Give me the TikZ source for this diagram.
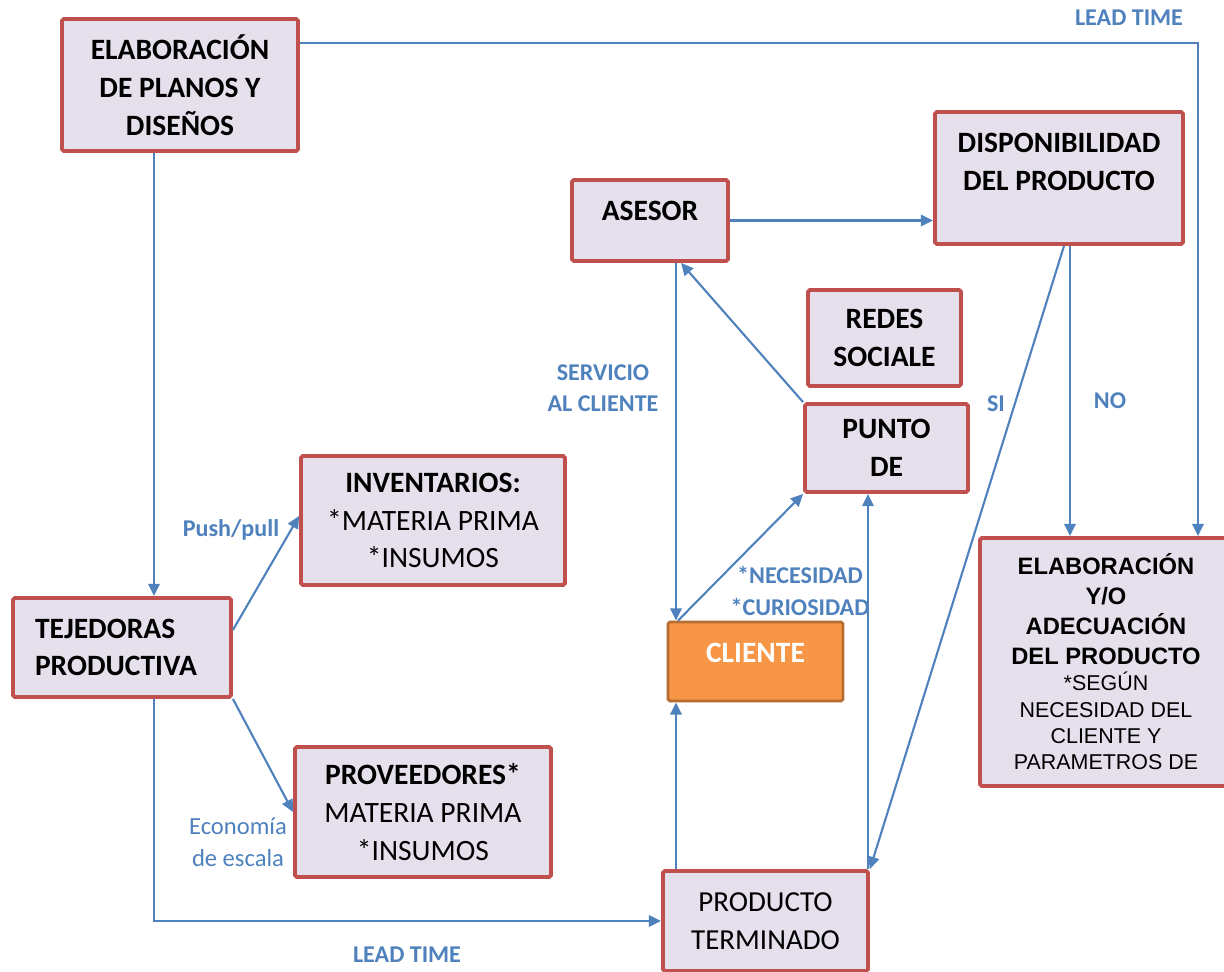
\documentclass[tikz,border=0pt]{standalone}
\usepackage{fontspec}
\setmainfont{Carlito}
\newfontfamily\arialfont{Liberation Sans}
\usetikzlibrary{arrows.meta}

\definecolor{boxred}{RGB}{192,80,77}
\definecolor{boxfill}{RGB}{229,224,236}
\definecolor{flowblue}{RGB}{79,129,189}
\definecolor{clientorange}{RGB}{247,150,70}
\definecolor{clientedge}{RGB}{182,109,49}

\begin{document}
\begin{tikzpicture}[x=0.02cm, y=-0.02cm,
	>={Triangle[length=7pt,width=6.5pt]},
	box/.style={draw=boxred, fill=boxfill, line width=2.2pt, rounded corners=1pt, inner sep=0pt, align=center, font=\bfseries\fontsize{16.8}{21.5}\selectfont},
	flow/.style={flowblue, line width=1.2pt},
	tag/.style={text=flowblue, inner sep=0pt, align=center, font=\bfseries\fontsize{13.7}{18}\selectfont}]

	% page frame
	\useasboundingbox (0,0) rectangle (1224,971);

	% box placement
	\node[box, minimum width=4.72cm, minimum height=2.64cm] (plan) at (180,85) {ELABORACIÓN\\DE PLANOS Y\\DISEÑOS};
	\node[box, minimum width=3.12cm, minimum height=1.62cm] (asesor) at (650,220.5) {ASESOR\\[-10pt]\mbox{}};
	\node[box, minimum width=4.96cm, minimum height=2.64cm] (dispo) at (1059,178) {DISPONIBILIDAD\\DEL PRODUCTO\\[-3.5pt]\mbox{}};
	\node[box, minimum width=3.06cm, minimum height=1.92cm] (redes) at (884.5,338) {REDES\\SOCIALE};
	\node[box, minimum width=3.26cm, minimum height=1.76cm] (punto) at (886.5,448) {PUNTO\\DE};
	\node[box, minimum width=5.28cm, minimum height=2.58cm] (inv) at (433,520.5) {INVENTARIOS:\\\mdseries *MATERIA PRIMA\\\mdseries *INSUMOS};
	\node[box, align=left, text width=3.48cm, minimum width=4.36cm, minimum height=1.98cm] (tej) at (122,647.5) {TEJEDORAS\\PRODUCTIVA};
	\node[box, fill=clientorange, draw=clientedge, line width=1.6pt, text=white, minimum width=3.5cm, minimum height=1.58cm] (cliente) at (755.5,661.5) {CLIENTE\\[-12pt]\mbox{}};
	\node[box, minimum width=5.12cm, minimum height=2.6cm] (prov) at (423,812) {PROVEEDORES*\\\mdseries MATERIA PRIMA\\\mdseries *INSUMOS};
	\node[box, font=\fontsize{16.5}{21.5}\selectfont, minimum width=4.1cm, minimum height=2.0cm] (pt) at (765.5,921) {PRODUCTO\\TERMINADO};
	\node[box, font=\arialfont\bfseries\fontsize{13.5}{17}\selectfont, minimum width=5.04cm, minimum height=4.96cm] (adec) at (1106,662)
		{ELABORACIÓN\\Y/O\\ADECUACIÓN\\DEL PRODUCTO\\[-2pt]\mdseries\fontsize{12.2}{15}\selectfont *SEGÚN\\[-2pt]\mdseries\fontsize{12.2}{15}\selectfont NECESIDAD DEL\\[-2pt]\mdseries\fontsize{12.2}{15}\selectfont CLIENTE Y\\[-2pt]\mdseries\fontsize{12.2}{15}\selectfont PARAMETROS DE};

	% connector labels
	\node[tag] (leadtop) at (1129,18) {LEAD TIME};
	\node[tag] (leadbot) at (407,955) {LEAD TIME};
	\node[tag] (pushpull) at (231,530) {Push/pull};
	\node[tag, font=\fontsize{14}{18}\selectfont] (escala) at (238,842) {Economía\\de escala};
	\node[tag] (servicio) at (603,388) {SERVICIO\\AL CLIENTE};
	\node[tag] (necesidad) at (800,591) {*NECESIDAD\\*CURIOSIDAD};
	\node[tag] (si) at (996,404) {SI};
	\node[tag] (no) at (1110,401) {NO};

	% production side
	\draw[flow, ->] (plan.south -| 154,0) -- (tej.north -| 154,0);
	\draw[flow, ->] (plan.east |- 0,43) -| (adec.north -| 1198,0);
	\draw[flow, ->] (tej.east |- 0,630) -- (inv.west |- 0,516);
	\draw[flow, ->] (tej.south east) -- (prov.west);
	\draw[flow, ->] (tej.south -| 154,0) |- (pt.west);

	% client side
	\draw[flow, ->] (asesor.east) -- (asesor.east -| dispo.west);
	\draw[flow, ->] (asesor.south -| 676,0) -- (cliente.north -| 676,0);
	\draw[flow, ->] (punto.north west) -- (asesor.south -| 681,0);
	\draw[flow, ->] (cliente.north -| 678,0) -- (punto.south west);
	\draw[flow, ->] (pt.north -| 868,0) -- (punto.south -| 868,0);
	\draw[flow, ->] (pt.north -| 676,0) -- (cliente.south -| 676,0);

	% availability check
	\draw[flow, ->] (dispo.south -| 1064,0) -- (pt.north east);
	\draw[flow, ->] (dispo.south -| 1070,0) -- (adec.north -| 1070,0);

\end{tikzpicture}
\end{document}
